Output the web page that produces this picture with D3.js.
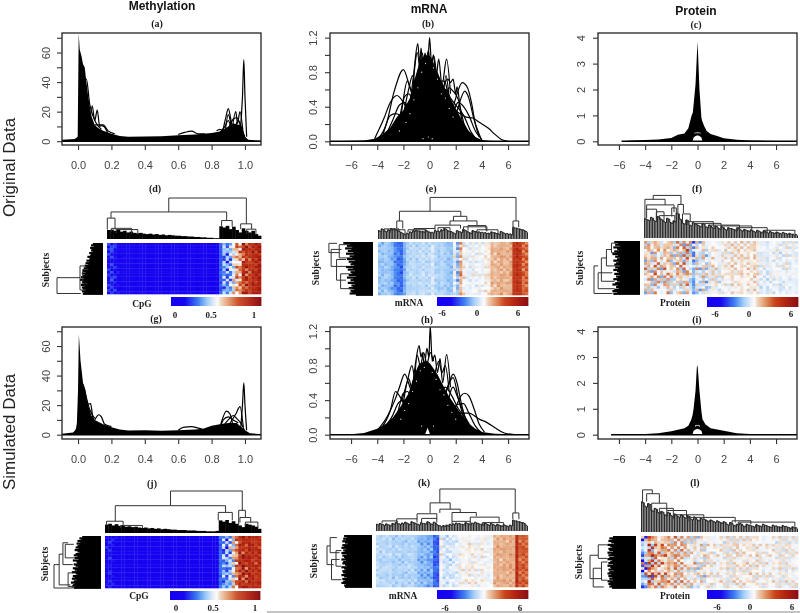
<!DOCTYPE html>
<html>
<head>
<meta charset="utf-8">
<script src="https://cdn.jsdelivr.net/npm/d3@7"></script>
<style>
  html, body { margin: 0; background: #fff; }
  svg { display: block; filter: blur(.3px); }
  text { font-family: "Liberation Sans", Arial, sans-serif; }
  .serif { font-family: "Liberation Serif", "Times New Roman", serif; font-weight: bold; fill: #1c1c1c; }
</style>
</head>
<body>
<svg id="chart" width="800" height="613"></svg>
<script>
// density panels: black mass [x, top, bottom] and the curves standing out of it
const massA = [[-.1,1,0],[-.02,1.5,0],[-.002,3,0],[.004,73,0],[.01,62,0],[.02,58,0],[.03,52,0],[.04,50,0],[.05,40,0],[.06,31,0],[.08,17,0],[.1,11,0],[.12,9,0],[.15,7,0],[.2,5,0],[.25,3.5,0],[.3,3,0],[.4,3.2,0],[.5,3.4,0],[.6,4,0],[.7,4.5,0],[.8,5.5,0],[.85,6.5,0],[.9,10,0],[.93,12,0],[.97,11,0],[.985,8,0],[1,3,0],[1.02,1,0],[1.1,.2,0]];
const linesA = [
  [[.07,10],[.085,24],[.1,14],[.115,21],[.13,10],[.14,10.5],[.155,10],[.18,5]],
  [[.6,4.5],[.64,6],[.68,6.8],[.72,5],[.76,5]],
  [[.97,5],[.985,30],[.993,55],[1,30],[1.01,3]],
  [[.86,3],[.885,16],[.9,22],[.915,15],[.93,6]],
  [[.92,5],[.945,20],[.955,12],[.97,20],[.99,4]],
  [[.83,7],[.85,8],[.87,7]],
  [[.88,5],[.9,18],[.92,10],[.94,4]],
  [[.85,6],[.88,10],[.9,14],[.92,9],[.94,10],[.96,14],[.98,8],[1,3]],
  [[.02,40],[.05,42],[.07,25],[.09,17],[.11,12],[.14,8]],
  [[.1,11],[.15,11],[.18,7],[.22,5]],
  [[.9,8],[.93,15],[.95,16],[.97,12],[.99,5]]
];
const massB = [[-7.6,0,0],[-5,.01,0],[-4.2,.03,0],[-3.6,.08,0],[-3,.16,0],[-2.5,.28,0],[-2,.36,0],[-1.5,.5,0],[-1.1,.74,0],[-.7,.95,0],[-.3,1,0],[.1,.98,0],[.5,.84,0],[1,.66,0],[1.5,.52,0],[2,.38,0],[2.5,.24,0],[3,.12,0],[3.5,.05,0],[4,.015,0],[5,0,0],[7.6,0,0]];
const linesB = [
  [[-4,.02],[-3.3,.2],[-2.7,.58],[-2,.83],[-1.5,.62],[-1.2,.5],[-.6,.2]],
  [[-4.2,.03],[-3.5,.26],[-3,.45],[-2.5,.53],[-2,.45],[-1.5,.3],[-1,.15]],
  [[-3.6,.05],[-3,.3],[-2.6,.32],[-2,.25],[-1.6,.1]],
  [[-2,.3],[-1.6,.6],[-1.3,.76],[-1.05,.62],[-.8,.4]],
  [[-1.5,.4],[-1.2,.8],[-.9,1.13],[-.75,.9],[-.65,1.08],[-.5,.85],[-.35,1.02],[-.15,.85],[0,1.2],[.15,.9],[.3,1],[.5,.75],[.7,.95],[.95,.65],[1.3,.95],[1.6,.55]],
  [[.8,.4],[1.1,.65],[1.4,.72],[1.6,.68],[1.8,.72],[2,.55],[2.1,.63],[2.4,.3],[2.7,.1]],
  [[1.5,.2],[2,.5],[2.5,.68],[2.9,.62],[3.2,.45],[3.5,.2],[3.8,.05]],
  [[1.6,.1],[2.1,.35],[2.7,.58],[3,.5],[3.4,.25],[3.8,.08],[4,.01]],
  [[0,.5],[1,.42],[2,.35],[2.8,.28],[3.3,.27],[3.8,.22],[4.5,.15],[5,.08],[5.5,.02],[6,0]],
  [[-3.4,.05],[-2.8,.25],[-2.3,.42],[-1.9,.45],[-1.4,.3],[-1,.2]],
  [[-3,.03],[-2.4,.2],[-1.9,.52],[-1.6,.55],[-1.2,.45],[-.8,.3]],
  [[-2.8,.02],[-2.2,.3],[-1.7,.7],[-1.4,.58],[-1,.4]],
  [[1,.3],[1.5,.62],[1.8,.58],[2.2,.48],[2.6,.22],[3,.06]],
  [[.7,.4],[1.2,.6],[1.6,.5],[2,.42],[2.6,.3],[3.2,.1],[3.6,.02]],
  [[.5,.5],[1,.7],[1.2,.68],[1.5,.45],[2,.2]],
  [[1.5,.1],[2.2,.45],[2.6,.4],[3,.3],[3.5,.12],[4,.02]],
  [[-1.4,.3],[-1.1,.9],[-.95,1.03],[-.7,.7]],
  [[-.8,.7],[-.55,1.02],[-.35,.8],[-.1,1.05],[.1,.8]],
  [[.1,.8],[.35,.98],[.55,.7]],
  [[1,.4],[1.25,.76],[1.5,.5]]
];
const specksB = [[-1.8,.22],[-1.5,.32],[-1.2,.48],[-.9,.62],[-.6,.8],[-.3,.9],[.3,.85],[.6,.72],[.9,.55],[1.2,.5],[1.5,.38],[1.8,.28],[-.5,.03],[-.1,.05],[.2,.03],[-2.3,.12]];
const massC = [[-5.8,0,0],[-5,.03,0],[-3,.07,0],[-2,.13,0],[-1.5,.25,0],[-1,.3,0],[-.7,.5,0],[-.5,.9,0],[-.45,1,0],[-.36,1.1,.02],[-.3,1.4,.15],[-.15,2.2,.2],[-.05,3.3,.22],[0,3.85,.22],[.05,3.3,.22],[.15,2,.2],[.3,.9,.15],[.36,.78,.02],[.5,.6,0],[.7,.4,0],[1,.28,0],[1.5,.2,0],[2,.12,0],[3,.06,0],[4,.03,0],[6,.01,0],[7.6,0,0]];
const linesC = [];
const specksC = [[-.2,.32],[-.1,.33],[0,.33],[.1,.33],[.2,.32]];
const massG = [[-.1,.6,0],[-.03,1.5,0],[-.008,4,0],[0,30,0],[.005,68,0],[.015,50,0],[.03,35,0],[.045,30,0],[.06,20,0],[.08,13,0],[.1,10,0],[.15,7,0],[.2,5,0],[.25,3.5,0],[.3,2.8,0],[.4,3,0],[.5,2.7,0],[.6,3,0],[.7,3.5,0],[.75,4,0],[.8,6,0],[.85,7,0],[.9,8,0],[.95,8,0],[1,3,0],[1.03,1,0],[1.1,.3,0]];
const linesG = [
  [[.05,20],[.075,21],[.09,11],[.1,9]],
  [[.1,10],[.125,13.5],[.14,12],[.16,7],[.2,5.5]],
  [[.6,3],[.63,5],[.68,5.5],[.72,4.5],[.75,3.5]],
  [[.85,5],[.89,16],[.91,14],[.93,5]],
  [[.9,6],[.945,14],[.97,19],[.99,5]],
  [[.975,5],[.985,20],[.993,35],[1,20],[1.01,3]],
  [[.85,4],[.87,10],[.9,12],[.93,10],[.96,8]],
  [[-.02,1],[-.005,6],[0,10]],
  [[.87,6],[.9,10],[.93,13],[.95,11],[.98,7],[1,2]],
  [[.03,34],[.05,25],[.07,17],[.1,11]]
];
const massH = [[-7.6,0,0],[-6,.005,0],[-5,.02,0],[-4,.07,0],[-3.3,.13,0],[-2.8,.2,0],[-2.2,.33,0],[-1.6,.48,0],[-1.2,.68,0],[-.8,.82,0],[-.35,.85,0],[-.15,.85,.08],[.05,.82,0],[.6,.7,0],[1,.58,0],[1.5,.44,0],[2,.33,0],[2.5,.22,0],[3,.13,0],[3.5,.07,0],[4,.03,0],[5,.01,0],[7.6,0,0]];
const linesH = [
  [[-4,.05],[-3.2,.22],[-2.6,.42],[-2.3,.55],[-1.9,.7],[-1.5,.55],[-1,.35]],
  [[-3.8,.05],[-3,.28],[-2.6,.5],[-2.3,.45],[-1.8,.3]],
  [[-2.1,.4],[-1.7,.62],[-1.35,.8],[-1.1,.6],[-.8,.4]],
  [[-1.4,.4],[-1.05,.85],[-.8,1.03],[-.65,.9],[-.55,.95],[-.4,.8],[-.2,1],[-.05,.9],[.05,1.26],[.2,.85],[.4,.92],[.6,.72],[.8,.88],[1,.6],[1.3,.93],[1.6,.55]],
  [[.9,.35],[1.4,.55],[1.8,.7],[2.1,.6],[2.4,.38],[2.8,.15]],
  [[1.5,.2],[2,.32],[2.4,.45],[2.7,.48],[3,.45],[3.4,.3],[3.8,.12],[4.2,.03]],
  [[1.2,.2],[1.8,.55],[2.1,.45],[2.6,.25],[3,.1]],
  [[1.5,.2],[2.2,.25],[3,.25],[3.8,.18],[4.4,.14],[5,.08],[5.7,.02],[6.5,0]],
  [[-3.6,.05],[-2.9,.2],[-2.3,.38],[-1.9,.4],[-1.4,.28],[-1,.18]],
  [[-3.1,.04],[-2.5,.22],[-2,.48],[-1.7,.5],[-1.3,.4],[-.9,.3]],
  [[-2.6,.05],[-2.1,.3],[-1.6,.65],[-1.4,.55],[-1,.4]],
  [[1,.35],[1.5,.6],[1.8,.66],[2.2,.42],[2.6,.2],[3,.06]],
  [[.7,.45],[1.2,.55],[1.7,.45],[2.2,.3],[2.8,.18],[3.3,.05]],
  [[1.5,.15],[2.1,.35],[2.6,.36],[3,.25],[3.5,.1],[4,.02]],
  [[-1.2,.4],[-.95,.92],[-.7,.8],[-.45,.95],[-.2,.82],[.05,.95],[.3,.85]],
  [[.4,.7],[.7,.85],[.95,.72],[1.2,.8],[1.5,.5]]
];
const specksH = [[-2.2,.18],[-1.9,.28],[-1.6,.36],[-1.3,.5],[-1,.62],[-.7,.74],[-.4,.78],[.2,.72],[.5,.64],[.8,.52],[1.1,.46],[1.4,.34],[1.7,.26],[2,.18],[-.6,.1],[.3,.1]];
const massI = [[-6.6,0,0],[-4,.03,0],[-3,.06,0],[-2,.13,0],[-1,.25,0],[-.7,.35,0],[-.5,.55,0],[-.38,.75,.01],[-.3,1,.15],[-.15,1.7,.2],[-.05,2.6,.22],[0,2.68,.22],[.05,2.4,.22],[.15,1.7,.2],[.3,.9,.15],[.38,.6,.01],[.6,.4,0],[1,.25,0],[2,.15,0],[3,.06,0],[4,.03,0],[6,.005,0],[7.6,0,0]];
const linesI = [];
const specksI = [[-.15,.34],[-.05,.36],[.05,.36],[.15,.34]];

// axis ticks
const methTicks = [0, .2, .4, .6, .8, 1];
const methYTicks = [0, 10, 20, 30, 40, 50, 60, 70];
const methYLabels = [0, 20, 40, 60];
const expTicks = [-6, -4, -2, 0, 2, 4, 6];
const mrnaYTicks = [0, .2, .4, .6, .8, 1, 1.2];
const mrnaYLabels = [0, .4, .8, 1.2];
const protYTicks = [0, 1, 2, 3, 4];

// heatmaps: column means, column spread per block, row residuals for even / odd columns
const colMeanD = [.14,.16,.12,.08,.07,.09,.06,.08,.06,.05,.07,.05,.06,.04,.05,.06,.04,.04,.05,.04,.03,.05,.04,.03,.04,.03,.03,.04,.02,.03,.03,.02,.03,.02,.03,.24,.32,.3,.36,.46,.56,.6,.76,.8,.76,.84,.82,.88];
const colSpreadD = [.12,.07,.05,.04,.03,.03,.03,.03,.04,.2,.22,.12];
const rowsD = [.9,.5,.7,-.2,.4,.1,-.5,.3,-.1,.7,.2,-.3,.5,.6,-.4,.2,.3,-.2,.6,.4];
const rowsD2 = [-.3,.6,.2,.8,-.4,.5,.1,-.6,.4,.2,-.2,.7,-.5,.3,.5,-.1,.6,.2,-.3,.5];
const colMeanE = [-1.3,-1.4,-1.2,-1.4,-1.6,-2.2,-2.5,-2.8,-1.7,-1,-.9,-.8,-1,-.8,-.7,-.9,-.8,-.5,-1,-1.2,-.9,-1.1,-1.3,-1.4,-.3,-1.5,1.3,.2,-.1,-.3,.1,-.2,.1,-.1,.3,.4,1.2,1,1.2,1.3,1.1,1.2,1.4,3.6,4,3.5,2.3,2.4];
const colSpreadE = [.5,.6,.4,.4,.5,.4,1.1,.6,.6,.6,.5,.8];
const rowsE = [.2,-.5,.6,-.2,.4,.7,-.7,.1,-.3,.5,-.6,.3,.8,-.2,-.5,.4,.1,-.7,.6,-.1];
const rowsE2 = [-.6,.3,-.1,.7,-.4,.2,.5,-.7,.6,-.2,.4,-.5,.1,.6,-.3,.7,-.6,.2,-.1,.5];
const colMeanF = [.3,.6,-.2,.7,.5,-.1,.8,.5,.2,-.3,.7,.4,.2,.7,-.4,-1.8,.2,-.8,.3,-.6,-.2,.4,.2,-.3,.1,.3,.1,.5,.3,.3,.6,.2,.5,.3,.6,.2,-.3,-.1,-.4,-.1,-.2,.1,-.3,-.1,.1,-.3,0,-.2];
const colSpreadF = [1.9,1.9,1.8,2.6,1.5,1,.8,.8,.7,.7,.7,.7];
const rowsF = [.6,-.4,.8,.2,-.7,.5,.3,-.8,.7,-.1,.9,-.5,.2,.6,-.9,.4,-.3,-.7,.2,-.8];
const rowsF2 = [-.5,.7,-.2,.6,.3,-.8,.5,.1,-.4,.8,-.6,.3,.9,-.3,.2,-.7,.6,-.2,-.8,.4];
const colMeanJ = [.1,.13,.1,.07,.06,.08,.05,.07,.05,.05,.04,.05,.04,.05,.04,.03,.05,.03,.04,.03,.03,.04,.03,.03,.03,.02,.03,.02,.03,.02,.02,.03,.02,.02,.04,.26,.3,.28,.36,.46,.6,.8,.82,.78,.84,.83,.79,.82];
const colSpreadJ = [.1,.06,.05,.04,.03,.03,.03,.03,.04,.22,.22,.12];
const rowsJ = [.4,.7,-.2,.5,.8,.1,-.3,.6,.2,.5,-.4,.9,.3,-.1,.6,.4,-.3,.2,.5,.1];
const rowsJ2 = [.6,-.3,.4,.1,-.5,.7,.3,-.2,.8,-.1,.5,.2,-.4,.6,.1,-.3,.7,.4,-.2,.6];
const colMeanK = [-.8,-1,-.9,-1,-.8,-1.1,-1,-1,-1.2,-1,-1,-.9,-1.1,-1.5,-1.7,-1.5,-1.8,-1.7,-2.9,-3.1,.1,-.5,-.6,-.5,-.5,-.3,0,.2,.1,.3,.1,.2,-.1,.3,0,-.1,0,1.2,1.4,1.1,1.3,1.2,1.4,1.3,4.2,2.4,2.6,2.4];
const colSpreadK = [.5,.5,.5,.5,.7,.9,.7,.6,.6,.5,.5,.7];
const rowsK = [-.4,.5,.2,-.6,.7,-.1,.4,.8,-.5,.1,-.7,.3,.6,-.2,.4,-.6,.2,.7,-.3,.1];
const rowsK2 = [.5,-.2,-.6,.4,.1,.8,-.5,.2,.6,-.7,.3,-.1,.5,.7,-.4,.2,-.6,.3,.7,-.2];
const colMeanL = [-2,-1,1.4,.6,1,.7,1.1,.7,.9,.5,1,.5,.8,.3,.1,-.1,.3,-.4,.2,-.2,.3,.1,.1,0,.2,0,.2,0,.2,.3,.1,.3,.2,.3,.1,.3,.1,0,.2,0,.2,0,.2,0,.1,0,.1,0];
const colSpreadL = [3.6,2.2,1.7,1.6,1.5,.9,.9,.9,.9,.8,.8,.8];
const rowsL = [.7,-.6,.3,.8,-.2,.5,-.8,.4,.1,-.5,.9,-.3,.6,-.7,.2,.5,-.4,.8,-.6,.3];
const rowsL2 = [-.4,.6,-.8,.2,.7,-.3,.5,.9,-.6,.3,-.2,.8,-.5,.1,.7,-.7,.4,-.1,.6,-.8];
// cell to cell speckle that the row residuals do not carry
const speckle = [
  [.5,-.8,.2,.9,-.4,.1,-.9,.6,.3,-.2,.8,-.6,.4,-.1,.7,-.5],
  [-.7,.3,.8,-.2,.6,-.9,.4,-.3,.9,.1,-.5,.7,-.8,.2,-.4,.6],
  [.2,.9,-.5,.4,-.1,.7,-.6,.8,-.3,-.8,.5,.1,.6,-.7,.3,-.2],
  [-.4,.1,.6,-.9,.8,-.2,.5,-.7,.2,.7,-.1,-.6,.3,.9,-.8,.4],
  [.8,-.3,-.7,.5,.2,-.6,.9,.1,-.5,.4,-.9,.6,-.2,.5,.1,-.7],
  [-.1,.6,.4,-.6,-.8,.3,-.2,.7,.8,-.4,.2,-.9,.9,-.3,.5,.2],
  [.6,-.5,.9,.1,-.3,.8,-.7,-.1,.4,.6,-.8,.3,-.6,.7,-.2,.9],
  [-.9,.2,-.2,.7,.5,-.4,.3,.9,-.6,-.1,.7,.4,-.3,.1,.8,-.5],
  [.3,.7,-.8,-.3,.9,.2,-.5,.4,.1,-.7,.6,-.2,.8,-.4,-.6,.5],
  [-.6,-.1,.5,.8,-.7,.6,.2,-.9,.7,.3,-.4,.9,-.1,-.8,.4,.2],
  [.9,-.6,.1,-.5,.4,-.8,.7,.3,-.2,.8,.1,-.7,.5,.2,-.9,.6],
  [-.2,.4,-.9,.6,.1,.5,-.3,-.8,.6,-.5,.9,.2,-.7,.4,.7,-.1]
];

// colour key: position along the key and colour
const keyStops = [0, .15, .3, .4, .48, .52, .56, .65, .75, .88, 1];
const keyColors = ["#1500f0", "#1808f0", "#3f7ff0", "#a0ccf8", "#e4edf8", "#fbfbfb", "#eed2b8", "#e08f60", "#c8421a", "#b02010", "#8b1015"];

// dendrograms: leaf heights and brackets [from, to, height, left drop, right drop]
const colTreeD = [22,23,20,24,18,20,16,18,15,14,15,13,12,13,11,12,10,11,9,10,9,8,8,7,7,6,6,5,5,4,4,3,3,2,2,31,28,32,24,30,22,16,26,20,16,20,12,8];
const colLinksD = [[40.1,90.5,100,66,37],[2.6,77.7,66,51,45],[.2,5.2,51,23,23],[74.4,81.3,45,30,30],[86.8,93.9,37,24,24],[90.7,96.7,24,12,12],[3,16,26,18,12],[6,20,23,14,10]];
const colTreeE = [20,24,19,22,25,24,20,16,12,14,17,20,21,19,18,21,17,16,20,19,22,25,20,18,14,20,17,23,19,15,20,18,17,16,15,14,17,15,13,18,14,13,12,28,26,24,22,18];
const colLinksE = [[34.7,92,99,66,43],[14.3,55.2,66,43,54],[12.5,16.5,43,25,25],[50.3,59.2,54,43,43],[48,66,43,33,33],[38,55,33,25,25],[57,72.6,29,18,18],[90,93.8,43,28,28],[20,32,22,16,16],[4,14,24,18,18],[60,72,32,20,20],[24,38,25,17,20],[40,48,27,18,18],[66,80,22,14,14],[8,18,22,14,12]];
const colTreeF = [45,42,48,40,50,44,38,46,36,40,58,44,34,42,30,36,32,28,34,26,30,24,28,22,26,20,24,22,19,22,18,20,17,19,15,18,14,17,13,15,12,14,11,13,10,11,9,8];
const colLinksF = [[6,24,99,90,78],[.6,13.7,90,46,77],[1.7,19.5,77,65,60],[1.7,8.2,67,45,45],[8,13,61,40,40],[22,25.6,78,58,58],[18,21,70,50,50],[25,30,56,38,38],[28,45,38,30,24],[42,62,30,22,18],[60,80,24,16,14],[78,98,18,10,9],[10,20,52,42,36],[33,50,34,26,22],[50,70,28,20,16]];
const colTreeJ = [20,22,18,21,17,19,15,16,14,15,13,12,13,11,12,10,11,9,10,9,8,8,7,7,7,6,6,6,5,5,5,4,4,4,5,30,27,31,24,28,22,18,14,22,20,18,15,10];
const colLinksJ = [[42,88,100,65,54],[6.6,77.3,65,28,49],[72.6,81.6,49,30,30],[85.7,90,54,20,37],[86.5,93.4,37,25,25],[1,11.6,28,18,18],[10,24,18,12,10],[90,98,26,16,12]];
const colTreeK = [16,18,15,17,14,18,20,17,19,21,17,22,19,16,20,18,22,17,21,15,12,13,14,16,17,19,18,16,20,17,19,21,18,16,19,15,18,14,16,13,15,12,14,26,24,22,20,14];
const colLinksK = [[42,91.6,100,67,43],[35.6,48.8,67,43,52],[42,55.4,52,43,44],[27,40,41,28,28],[50,66,44,23,35],[62,81,33,20,20],[13.6,27,29,20,20],[90,94,43,28,28],[4,14,24,18,18],[30,40,30,20,20],[50,62,23,17,17],[70,84,20,13,13]];
const colTreeL = [70,60,66,50,55,45,48,40,46,38,42,36,40,34,38,30,35,28,32,30,26,28,24,26,22,24,18,22,16,18,20,14,18,16,13,17,14,18,15,12,16,14,12,15,13,10,12,10];
const colLinksL = [[1,7.2,98,67,89],[3.6,11.7,89,71,67],[6.8,16.4,67,50,50],[11.7,20.6,55,40,40],[16.4,29,50,35,35],[20.6,40,40,30,30],[30,60,34,24,22],[58,70,26,18,18],[62,98,23,14,12]];
const rowTreeD = [22,26,20,28,24,26,22,30,26,28,34,28,30,36,30,38,32,40,36,42,34,44,38,46,40,44,48,42,50,44,46,42,48,40,46,44,38,46,42,44];
const rowLinksD = [[68,99,100,50,48],[45,92,50,38,44],[52,80,44,32,34]];
const rowTreeE = [66,52,58,46,62,48,56,44,60,42,52,46,58,40,54,46,50,42,60,44,56,40,50,46,54,38,58,44,50,42,56,40,48,44,54,42,50,46,52,38];
const rowLinksE = [[2.5,20,98,80,75],[14,46,93,70,60],[33,72,81,60,60],[60,88,72,52,46],[5,30,75,50,50]];
const rowTreeF = [56,48,54,44,58,50,46,56,52,60,48,54,44,50,58,46,52,56,44,54,48,58,50,46,56,44,52,48,58,50,44,54,60,48,52,46,56,60,50,58];
const rowLinksF = [[47,99,100,91,60],[60,90,91,60,55],[32,76,84,73,55],[16,47,73,62,50],[4,22,62,50,50]];
const rowTreeJ = [40,46,42,50,44,52,46,50,54,48,56,50,46,54,58,50,56,48,60,52,50,58,54,48,60,56,52,62,54,50,60,56,62,52,58,64,56,60,62,58];
const rowLinksJ = [[55,100,100,89,60],[35,94,89,81,65],[13,55,81,70,60],[16,42,76,58,55],[71,97,70,58,55]];
const rowTreeK = [62,56,64,58,66,60,54,66,62,68,58,64,60,68,56,66,62,60,68,58,64,66,60,56,68,62,58,66,64,60,68,62,56,66,60,64,68,58,62,60];
const rowLinksK = [[21,57,100,93,85],[5,34,93,78,72],[47,86,90,72,68],[30,60,80,68,68]];
const rowTreeL = [50,58,52,60,54,48,62,56,52,60,58,50,62,54,60,48,58,62,52,56,60,50,62,56,54,60,48,58,62,54,60,52,58,50,62,56,60,54,58,52];
const rowLinksL = [[37,82,100,82,75],[62,98,93,75,70],[17,43,82,62,62],[50,85,75,62,62]];

const keyTicks3 = [-6, 0, 6];
const keyTicksCpG = [0, .5, 1];

// panel layout in pixels
const densityPanels = [
  {id: "(a)", lx: 157, ly: 23, x0: 62, x1: 261, y0: 33, y1: 145, dx: [-.096, 1.096], zeroY: 141.2, unitY: 1.478, mass: massA, lines: linesA, specks: [], xt: methTicks, xf: d3.format(".1f"), yt: methYTicks, yl: methYLabels, yf: d => d, ylx: 46},
  {id: "(b)", lx: 428, ly: 23, x0: 330, x1: 529, y0: 33, y1: 145, dx: [-7.61, 7.6], zeroY: 141.3, unitY: 86.4, mass: massB, lines: linesB, specks: specksB, xt: expTicks, xf: d => d, yt: mrnaYTicks, yl: mrnaYLabels, yf: d3.format(".1f"), ylx: 313},
  {id: "(c)", lx: 696, ly: 24, x0: 598, x1: 797, y0: 33, y1: 145, dx: [-7.6, 7.6], zeroY: 141.3, unitY: 25.9, mass: massC, lines: linesC, specks: specksC, xt: expTicks, xf: d => d, yt: protYTicks, yl: protYTicks, yf: d => d, ylx: 581},
  {id: "(g)", lx: 156, ly: 318, x0: 62, x1: 261, y0: 327, y1: 439, dx: [-.096, 1.096], zeroY: 434.7, unitY: 1.478, mass: massG, lines: linesG, specks: [], xt: methTicks, xf: d3.format(".1f"), yt: methYTicks, yl: methYLabels, yf: d => d, ylx: 46},
  {id: "(h)", lx: 427, ly: 319, x0: 330, x1: 529, y0: 327, y1: 439, dx: [-7.61, 7.6], zeroY: 434.7, unitY: 86.4, mass: massH, lines: linesH, specks: specksH, xt: expTicks, xf: d => d, yt: mrnaYTicks, yl: mrnaYLabels, yf: d3.format(".1f"), ylx: 313},
  {id: "(i)", lx: 697, ly: 319, x0: 598, x1: 797, y0: 327, y1: 439, dx: [-7.6, 7.6], zeroY: 434.7, unitY: 25.9, mass: massI, lines: linesI, specks: specksI, xt: expTicks, xf: d => d, yt: protYTicks, yl: protYTicks, yf: d => d, ylx: 581}
];
const heatPanels = [
  {id: "(d)", lx: 155, ly: 188, hx: [107, 261], hy: [243, 294], treeY: [198, 239], rowX: [57, 103], keyX: [171, 261], keyY: [297, 306], name: "CpG", nx: 142, ny: 307, sx: 46, sy: 270, kt: keyTicksCpG, ktx: [175, 211, 254], kty: 318, dom: [0, 1], mean: colMeanD, spread: colSpreadD, ra: rowsD, rb: rowsD2, tree: colTreeD, links: colLinksD, rt: rowTreeD, rl: rowLinksD, comb: false},
  {id: "(e)", lx: 431, ly: 188, hx: [378, 528], hy: [242, 295], treeY: [197, 239], rowX: [328, 373], keyX: [437, 528], keyY: [297, 306], name: "mRNA", nx: 409, ny: 306, sx: 316, sy: 268, kt: keyTicks3, ktx: [442, 477, 518], kty: 316, dom: [-6, 6], mean: colMeanE, spread: colSpreadE, ra: rowsE, rb: rowsE2, tree: colTreeE, links: colLinksE, rt: rowTreeE, rl: rowLinksE, comb: true},
  {id: "(f)", lx: 697, ly: 188, hx: [644, 798], hy: [241, 294], treeY: [195, 238], rowX: [594, 640], keyX: [707, 798], keyY: [297, 307], name: "Protein", nx: 675, ny: 306, sx: 580, sy: 268, kt: keyTicks3, ktx: [715, 749, 791], kty: 317, dom: [-6, 6], mean: colMeanF, spread: colSpreadF, ra: rowsF, rb: rowsF2, tree: colTreeF, links: colLinksF, rt: rowTreeF, rl: rowLinksF, comb: true},
  {id: "(j)", lx: 152, ly: 483, hx: [105, 261], hy: [536, 588], treeY: [491, 533], rowX: [54, 101], keyX: [170, 260], keyY: [591, 600], name: "CpG", nx: 139, ny: 599, sx: 45, sy: 564, kt: keyTicksCpG, ktx: [176, 213, 255], kty: 611, dom: [0, 1], mean: colMeanJ, spread: colSpreadJ, ra: rowsJ, rb: rowsJ2, tree: colTreeJ, links: colLinksJ, rt: rowTreeJ, rl: rowLinksJ, comb: false},
  {id: "(k)", lx: 424, ly: 482, hx: [376, 528], hy: [535, 587], treeY: [489, 531], rowX: [327, 372], keyX: [437, 528], keyY: [590, 599], name: "mRNA", nx: 403, ny: 599, sx: 314, sy: 561, kt: keyTicks3, ktx: [445, 479, 520], kty: 611, dom: [-6, 6], mean: colMeanK, spread: colSpreadK, ra: rowsK, rb: rowsK2, tree: colTreeK, links: colLinksK, rt: rowTreeK, rl: rowLinksK, comb: true},
  {id: "(l)", lx: 695, ly: 482, hx: [641, 798], hy: [536, 588], treeY: [489, 532], rowX: [590, 636], keyX: [707, 798], keyY: [590, 599], name: "Protein", nx: 675, ny: 599, sx: 579, sy: 562, kt: keyTicks3, ktx: [717, 750, 792], kty: 610, dom: [-6, 6], mean: colMeanL, spread: colSpreadL, ra: rowsL, rb: rowsL2, tree: colTreeL, links: colLinksL, rt: rowTreeL, rl: rowLinksL, comb: true}
];

const svg = d3.select("#chart");

// headings
[["Methylation", 162, 10], ["mRNA", 429, 12.5], ["Protein", 696, 14.5]].forEach(h => {
  svg.append("text").attr("x", h[1]).attr("y", h[2]).attr("text-anchor", "middle")
    .style("font-size", "12px").style("font-weight", "bold").attr("fill", "#111").text(h[0]);
});
[["Original Data", 167.5], ["Simulated Data", 432]].forEach(h => {
  svg.append("text").attr("transform", "translate(15," + h[1] + ") rotate(-90)").attr("text-anchor", "middle")
    .style("font-size", "17px").attr("fill", "#222").text(h[0]);
});

function drawDensity(p, i) {
  const x = d3.scaleLinear().domain(p.dx).range([p.x0, p.x1]);
  const y = d3.scaleLinear().domain([0, 1]).range([p.zeroY, p.zeroY - p.unitY]);
  const g = svg.append("g");
  const clip = "clip" + i;
  g.append("clipPath").attr("id", clip).append("rect")
    .attr("x", p.x0).attr("y", p.y0).attr("width", p.x1 - p.x0).attr("height", p.y1 - p.y0);
  const inner = g.append("g").attr("clip-path", "url(#" + clip + ")");

  // y=0 line of every density
  inner.append("line").attr("x1", x(p.mass[0][0])).attr("x2", p.x1).attr("y1", y(0)).attr("y2", y(0))
    .attr("stroke", "#000").attr("stroke-width", 1.6);
  inner.append("path").attr("fill", "#000")
    .attr("d", d3.area().x(d => x(d[0])).y1(d => y(d[1])).y0(d => y(d[2]))(p.mass));
  inner.selectAll(".curve").data(p.lines).join("path").attr("class", "curve")
    .attr("fill", "none").attr("stroke", "#000").attr("stroke-width", 1.2)
    .attr("d", d3.line().x(d => x(d[0])).y(d => y(d[1])).curve(d3.curveMonotoneX));
  // small gaps left open between the curves
  inner.selectAll(".speck").data(p.specks).join("circle").attr("class", "speck")
    .attr("cx", d => x(d[0])).attr("cy", d => y(d[1])).attr("r", .6).attr("fill", "#fff");

  g.append("rect").attr("x", p.x0).attr("y", p.y0).attr("width", p.x1 - p.x0).attr("height", p.y1 - p.y0)
    .attr("fill", "none").attr("stroke", "#222").attr("stroke-width", 1.3);

  const xAxis = g.append("g").attr("transform", "translate(0," + p.y1 + ")")
    .call(d3.axisBottom(x).tickValues(p.xt).tickSize(5).tickPadding(11).tickFormat(d => String(p.xf(d)).replace("-", "\u2212")));
  const yAxis = g.append("g").attr("transform", "translate(" + p.x0 + ",0)")
    .call(d3.axisLeft(y).tickValues(p.yt).tickSize(5).tickFormat(d => p.yl.includes(d) ? p.yf(d) : ""));
  xAxis.select(".domain").remove();
  yAxis.select(".domain").remove();
  yAxis.selectAll("text").attr("x", null).attr("dy", null).attr("text-anchor", "middle")
    .attr("transform", "translate(" + (p.ylx - p.x0 + 4) + ",0) rotate(-90)");
  g.selectAll(".tick line").attr("stroke", "#333").attr("stroke-width", 1.1);
  g.selectAll(".tick text").style("font-size", "11px").style("font-family", '"Liberation Sans", Arial, sans-serif').attr("fill", "#444");

  svg.append("text").attr("class", "serif").attr("x", p.lx).attr("y", p.ly + 3.5).attr("text-anchor", "middle")
    .style("font-size", "10px").text(p.id);
}

function drawHeat(p) {
  const g = svg.append("g");
  const color = d3.scaleLinear()
    .domain(keyStops.map(s => p.dom[0] + s * (p.dom[1] - p.dom[0])))
    .range(keyColors).clamp(true);

  // cells
  const colBand = d3.scaleBand().domain(d3.range(p.mean.length)).range(p.hx);
  const rowBand = d3.scaleBand().domain(d3.range(p.ra.length)).range(p.hy);
  const cells = [];
  p.mean.forEach((m, c) => {
    const sp = p.spread[Math.floor(c * p.spread.length / p.mean.length)];
    (c % 2 ? p.rb : p.ra).forEach((res, r) => {
      cells.push({c, r, v: m + sp * (.6 * res + .7 * speckle[r % 12][c % 16])});
    });
  });
  g.append("g").style("filter", "blur(.5px)")
    .selectAll(".cell").data(cells).join("rect").attr("class", "cell")
    .attr("x", d => colBand(d.c)).attr("y", d => rowBand(d.r))
    .attr("width", colBand.bandwidth() + .3).attr("height", rowBand.bandwidth() + .3)
    .attr("fill", d => color(d.v));

  // column dendrogram: two teeth to each leaf height when the tree is a comb
  const treeX = d3.scaleLinear().domain([0, 100]).range(p.hx);
  const treeH = d3.scaleLinear().domain([0, 100]).range([p.treeY[1], p.treeY[0]]);
  const teeth = p.comb ? p.tree.flatMap(d => [d, d - 2]) : p.tree;
  const leaf = d3.scaleBand().domain(d3.range(teeth.length)).range(p.hx).paddingInner(p.comb ? .22 : 0);
  g.selectAll(".leaf").data(teeth).join("rect").attr("class", "leaf")
    .attr("x", (d, i) => leaf(i)).attr("width", leaf.bandwidth() + (p.comb ? 0 : .4))
    .attr("y", d => treeH(d)).attr("height", d => treeH(0) - treeH(d))
    .attr("fill", p.comb ? "#2a2a2a" : "#000");
  if (p.comb) {
    g.append("path").attr("fill", "none").attr("stroke", "#222").attr("stroke-width", 1)
      .attr("d", d3.line().x((d, i) => leaf(i)).y(d => treeH(d)).curve(d3.curveStepAfter)(teeth));
  }
  g.selectAll(".clink").data(p.links).join("path").attr("class", "clink")
    .attr("fill", "none").attr("stroke", "#333").attr("stroke-width", 1)
    .attr("d", d => "M" + treeX(d[0]) + "," + treeH(d[3]) + "V" + treeH(d[2]) + "H" + treeX(d[1]) + "V" + treeH(d[4]));

  // row dendrogram
  const depth = d3.scaleLinear().domain([0, 100]).range([p.rowX[1], p.rowX[0]]);
  const rowPos = d3.scaleLinear().domain([0, 100]).range(p.hy);
  const rowLeaf = d3.scaleBand().domain(d3.range(p.rt.length)).range(p.hy);
  g.selectAll(".rleaf").data(p.rt).join("rect").attr("class", "rleaf")
    .attr("x", d => depth(d)).attr("width", d => depth(0) - depth(d))
    .attr("y", (d, i) => rowLeaf(i)).attr("height", rowLeaf.bandwidth() + .9).attr("fill", "#000");
  g.selectAll(".rlink").data(p.rl).join("path").attr("class", "rlink")
    .attr("fill", "none").attr("stroke", "#333").attr("stroke-width", 1)
    .attr("d", d => "M" + depth(d[3]) + "," + rowPos(d[0]) + "H" + depth(d[2]) + "V" + rowPos(d[1]) + "H" + depth(d[4]));

  // colour key
  const keyBand = d3.scaleBand().domain(d3.range(91)).range(p.keyX);
  g.selectAll(".key").data(d3.range(91)).join("rect").attr("class", "key")
    .attr("x", d => keyBand(d)).attr("width", keyBand.bandwidth() + .4)
    .attr("y", p.keyY[0]).attr("height", p.keyY[1] - p.keyY[0])
    .attr("fill", d => color(p.dom[0] + d / 90 * (p.dom[1] - p.dom[0])));
  p.kt.forEach((k, i) => {
    g.append("text").attr("class", "serif").attr("x", p.ktx[i]).attr("y", p.kty).attr("text-anchor", "middle")
      .style("font-size", "9px").text(k);
  });

  // labels
  g.append("text").attr("class", "serif").attr("x", p.nx).attr("y", p.ny).attr("text-anchor", "middle")
    .style("font-size", "9.5px").text(p.name);
  g.append("text").attr("class", "serif").attr("transform", "translate(" + (p.sx + 3) + "," + p.sy + ") rotate(-90)")
    .attr("text-anchor", "middle").style("font-size", "9.5px").text("Subjects");
  g.append("text").attr("class", "serif").attr("x", p.lx).attr("y", p.ly + 3.5).attr("text-anchor", "middle")
    .style("font-size", "10px").text(p.id);
}

densityPanels.forEach(drawDensity);
heatPanels.forEach(drawHeat);

// rule along the bottom edge of the figure
svg.append("line").attr("x1", 267).attr("x2", 800).attr("y1", 612).attr("y2", 612)
  .attr("stroke", "#888").attr("stroke-width", 1);
</script>
</body>
</html>
